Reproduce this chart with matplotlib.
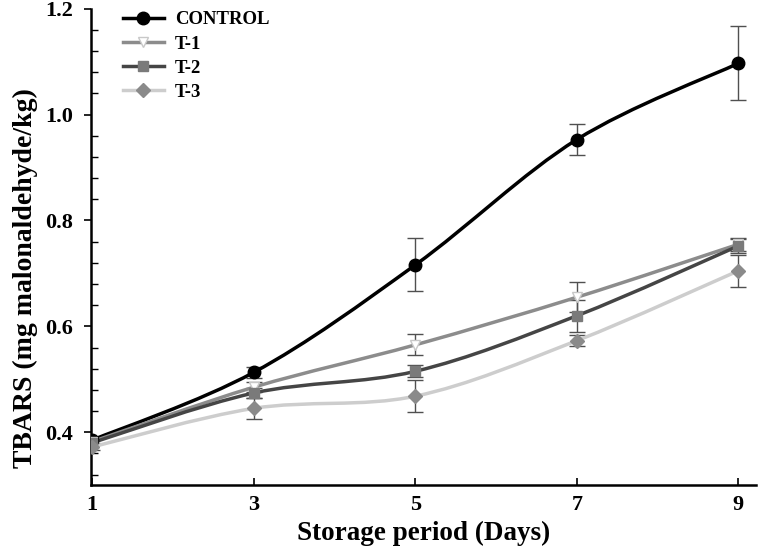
import numpy as np
import matplotlib
matplotlib.use("Agg")
import matplotlib.pyplot as plt
from matplotlib.path import Path
from matplotlib.patches import PathPatch
from matplotlib.lines import Line2D
from matplotlib.ticker import MultipleLocator

plt.rcParams['font.family'] = ['Liberation Serif', 'DejaVu Serif']
plt.rcParams['font.weight'] = 'bold'

days = [1, 3, 5, 7, 9]
control = [0.385, 0.513, 0.716, 0.953, 1.097]
control_err = [0.005, 0.010, 0.050, 0.030, 0.070]
t1 = [0.382, 0.485, 0.565, 0.655, 0.755]
t1_err = [0.005, 0.010, 0.020, 0.028, 0.012]
t2 = [0.380, 0.474, 0.515, 0.620, 0.752]
t2_err = [0.005, 0.010, 0.011, 0.030, 0.013]
t3 = [0.372, 0.445, 0.468, 0.573, 0.705]
t3_err = [0.005, 0.020, 0.030, 0.010, 0.030]
labels = ['CONTROL', 'T-1', 'T-2', 'T-3']


def smooth_path(x, y):
    # catmull-rom segments written as cubic bezier path in data coords
    p = np.column_stack([x, y]).astype(float)
    ext = np.vstack([p[0], p, p[-1]])
    verts = [p[0]]
    codes = [Path.MOVETO]
    for i in range(len(p) - 1):
        c1 = ext[i + 1] + (ext[i + 2] - ext[i]) / 6
        c2 = ext[i + 2] - (ext[i + 3] - ext[i + 1]) / 6
        verts += [c1, c2, ext[i + 2]]
        codes += [Path.CURVE4] * 3
    return Path(verts, codes)


fig = plt.figure(figsize=(7.74, 5.5), dpi=100)
ax = fig.add_axes([0.118, 0.118, 0.859, 0.866])

styles = [
    dict(line='#000000', marker='o', mface='#000000', medge='#000000', ms=9),
    dict(line='#8c8c8c', marker='v', mface='#ffffff', medge='#c8c8c8', ms=7),
    dict(line='#454545', marker='s', mface='#7a7a7a', medge='#7a7a7a', ms=7),
    dict(line='#cdcdcd', marker='D', mface='#8a8a8a', medge='#8a8a8a', ms=7),
]
series = [(control, control_err), (t1, t1_err), (t2, t2_err), (t3, t3_err)]

handles = []
for (vals, err), st, lab in zip(series, styles, labels):
    ax.errorbar(days, vals, yerr=err, fmt='none', ecolor='#505050',
                elinewidth=1.0, capsize=6, capthick=1.0, zorder=2)
    patch = PathPatch(smooth_path(days, vals), fill=False, edgecolor=st['line'],
                      lw=2.5, zorder=3, capstyle='round')
    ax.add_patch(patch)
    ax.plot(days, vals, linestyle='none', marker=st['marker'], color=st['mface'],
            markeredgecolor=st['medge'], markersize=st['ms'], zorder=4)
    handles.append(Line2D([], [], color=st['line'], lw=2.5, marker=st['marker'],
                          markerfacecolor=st['mface'], markeredgecolor=st['medge'],
                          markersize=st['ms']))

ax.set_xlim(0.99, 9.22)
ax.set_ylim(0.3, 1.2)
ax.set_xticks(days)
ax.yaxis.set_major_locator(MultipleLocator(0.2))
ax.yaxis.set_minor_locator(MultipleLocator(0.04))
ax.set_yticks([0.4, 0.6, 0.8, 1.0, 1.2])
ax.set_yticklabels(['0.4', '0.6', '0.8', '1.0', '1.2'])

for s in ['top', 'right']:
    ax.spines[s].set_visible(False)
for s in ['left', 'bottom']:
    ax.spines[s].set_linewidth(1.8)

ax.tick_params(axis='x', direction='in', length=5, width=1.2, labelsize=16, pad=7)
ax.tick_params(axis='y', which='major', direction='out', length=5, width=1.2,
               labelsize=16, pad=8)
ax.tick_params(axis='y', which='minor', direction='in', length=5, width=1.0)

ax.set_xlabel('Storage period (Days)', fontsize=19.5, fontweight='bold', labelpad=4)
ax.set_ylabel('TBARS (mg malonaldehyde/kg)', fontsize=20, fontweight='bold')
ax.yaxis.set_label_coords(-0.08, 0.435)

leg = ax.legend(handles, labels, loc='upper left', frameon=False, fontsize=13.5,
                handlelength=2.2, handletextpad=0.6, labelspacing=0.38,
                borderpad=0.0, borderaxespad=0.0, bbox_to_anchor=(0.047, 0.995))
for t in leg.get_texts():
    t.set_fontweight('bold')

fig.savefig('out.png', dpi=100)
